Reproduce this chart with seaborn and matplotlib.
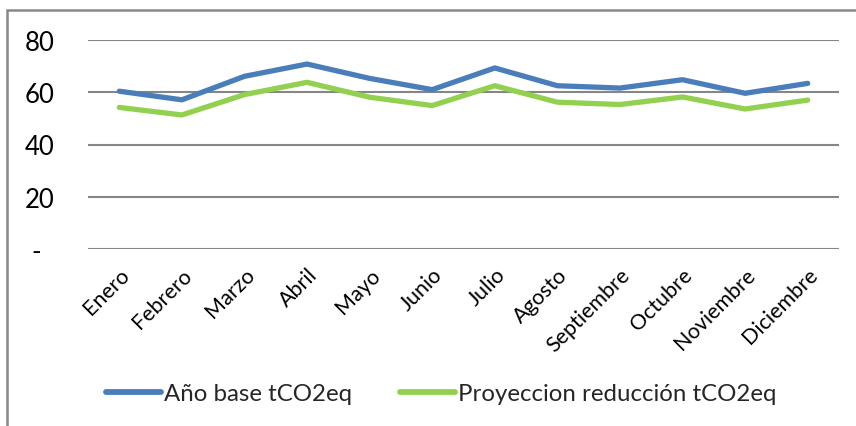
import matplotlib
matplotlib.use("Agg")
import matplotlib.pyplot as plt
from matplotlib.patches import Rectangle
import seaborn as sns
import pandas as pd

meses = ["Enero", "Febrero", "Marzo", "Abril", "Mayo", "Junio", "Julio",
         "Agosto", "Septiembre", "Octubre", "Noviembre", "Diciembre"]
ano_base = [60.4, 57.1, 66.1, 70.8, 65.3, 61.0, 69.3, 62.5, 61.6, 64.8, 59.6, 63.4]
proyeccion = [54.2, 51.3, 59.1, 63.8, 58.1, 54.9, 62.5, 56.2, 55.3, 58.2, 53.6, 57.0]
serie_base = "Año base tCO2eq"
serie_proy = "Proyeccion reducción tCO2eq"
y_ticks = [0, 20, 40, 60, 80]
y_labels = ["-  ", "20", "40", "60", "80"]

df = pd.DataFrame({
    "Mes": meses * 2,
    "tCO2eq": ano_base + proyeccion,
    "Serie": [serie_base] * len(meses) + [serie_proy] * len(meses),
})

sns.set_theme(style="white")
plt.rcParams["font.family"] = ["Lato", "DejaVu Sans"]

fig = plt.figure(figsize=(8.56, 4.27), dpi=100)
ax = fig.add_axes([88 / 856, 1 - 250 / 427, (839 - 88) / 856, (250 - 41) / 427])

sns.lineplot(data=df, x="Mes", y="tCO2eq", hue="Serie", sort=False,
             palette={serie_base: "#4A7EBB", serie_proy: "#92D050"},
             linewidth=3.8, ax=ax, legend=False)
for ln in ax.lines:
    ln.set_solid_capstyle("round")
    ln.set_solid_joinstyle("round")

ax.set_xlim(-0.5, len(meses) - 0.5)
ax.set_ylim(0, 80)
ax.set_yticks(y_ticks)
ax.set_yticklabels(y_labels, fontsize=18.5, color="black")
ax.set_xticks(range(len(meses)))
ax.set_xticklabels(meses, rotation=45, ha="right", rotation_mode="anchor",
                   fontsize=15.5, color="black")
ax.tick_params(axis="y", length=0, pad=24)
ax.tick_params(axis="x", length=0, pad=11)
ax.set_xlabel("")
ax.set_ylabel("")
ax.grid(axis="y", color="#868686", linewidth=1.5)
ax.set_axisbelow(True)
for s in ax.spines.values():
    s.set_visible(False)

handles = [plt.Line2D([], [], color="#4A7EBB", linewidth=4.2, solid_capstyle="round"),
           plt.Line2D([], [], color="#92D050", linewidth=4.2, solid_capstyle="round")]
fig.legend(handles, [serie_base, serie_proy], loc="center",
           bbox_to_anchor=(441 / 856, 1 - 395 / 427), ncol=2, frameon=False,
           fontsize=17.3, handlelength=2.3, handletextpad=0.1, columnspacing=2.0)

# outer chart frame
fig.patches.append(Rectangle((7 / 856, -0.2), 1.2, 1 - 11 / 427 + 0.2,
                             transform=fig.transFigure, fill=False,
                             edgecolor="#888888", linewidth=1.8))

fig.savefig("out.png", dpi=100, facecolor="white")
